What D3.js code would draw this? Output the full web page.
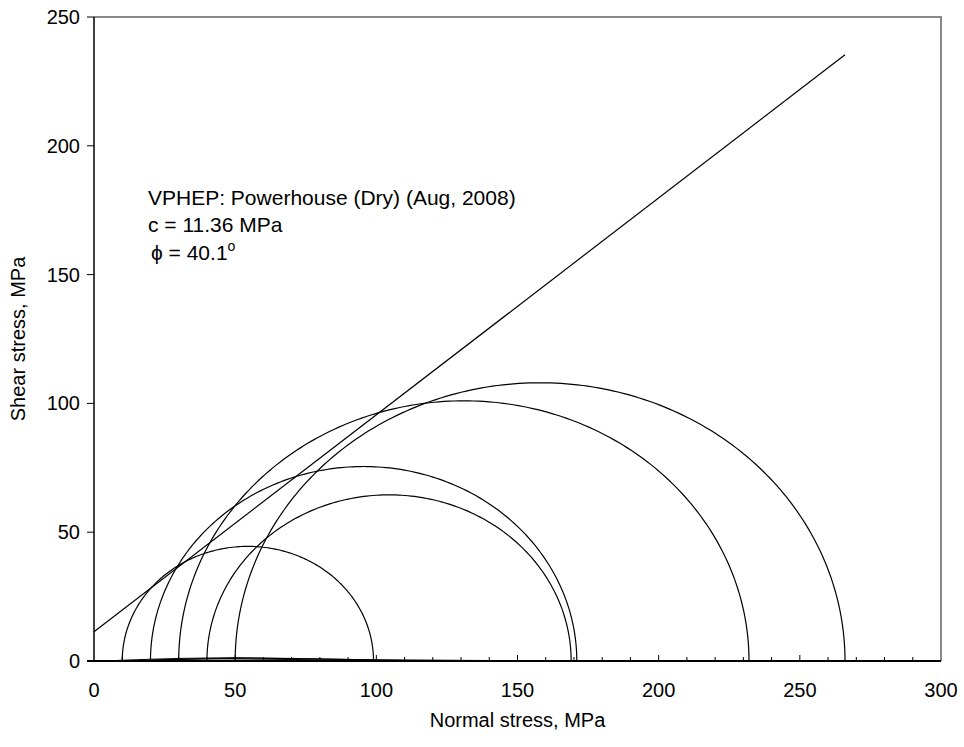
<!DOCTYPE html>
<html>
<head>
<meta charset="UTF-8">
<title>Mohr circles</title>
<style>
    body { margin: 0; background: #fff; }
    svg { display: block; }
    text { font-family: "Liberation Sans", Arial, sans-serif; fill: #000; }
</style>
</head>
<body>
<svg width="964" height="747"></svg>
<script src="https://cdn.jsdelivr.net/npm/d3@7"></script>
<script>
    // confining stress (sigma3) and peak stress (sigma1), MPa
    const sigma3 = [10, 20, 30, 40, 50];
    const sigma1 = [99, 171, 232, 169, 266];

    // failure envelope
    const cohesion = 11.36;
    const phiDeg = 40.1;
    const envelopeEnd = 266;

    // faint flat traces lying along the axis
    const traces = [
        [[3, 0], [15, 0.5], [30, 1.0], [50, 1.3], [70, 1.0], [100, 0.4], [140, 0.2]],
        [[10, 0], [30, 0.6], [55, 1.1], [80, 0.8], [110, 0.3], [170, 0]],
        [[20, 0.4], [40, 0.9], [60, 0.7], [100, 0.2], [130, 0]]
    ];

    const xTicks = [0, 50, 100, 150, 200, 250, 300];
    const yTicks = [0, 50, 100, 150, 200, 250];
    const labels = ["VPHEP: Powerhouse (Dry) (Aug, 2008)", "c = 11.36 MPa"];

    const svg = d3.select("svg");
    const mLeft = 94, mRight = 941, mTop = 17, mBottom = 661;
    const fs = 20;

    const x = d3.scaleLinear().domain([0, 300]).range([mLeft, mRight]);
    const y = d3.scaleLinear().domain([0, 250]).range([mBottom, mTop]);

    // plot frame (top and right grey)
    svg.append("path")
        .attr("d", `M${mLeft},${mTop}H${mRight}V${mBottom}`)
        .attr("fill", "none")
        .attr("stroke", "#888")
        .attr("stroke-width", 2);

    // circles
    const line = d3.line().x(d => x(d[0])).y(d => y(d[1]));
    const circles = sigma3.map((s3, i) => {
        const c = (s3 + sigma1[i]) / 2, r = (sigma1[i] - s3) / 2;
        return d3.range(0, 181).map(k => {
            const a = Math.PI - k * Math.PI / 180;
            return [c + r * Math.cos(a), r * Math.sin(a)];
        });
    });

    svg.append("g").selectAll("path")
        .data(circles)
        .join("path")
        .attr("d", line)
        .attr("fill", "none")
        .attr("stroke", "#000")
        .attr("stroke-width", 1.2);

    svg.append("g").selectAll("path")
        .data(traces)
        .join("path")
        .attr("d", line)
        .attr("fill", "none")
        .attr("stroke", "#000")
        .attr("stroke-width", 1);

    // envelope
    const tanPhi = Math.tan(phiDeg * Math.PI / 180);
    svg.append("path")
        .attr("d", line([[0, cohesion], [envelopeEnd, cohesion + envelopeEnd * tanPhi]]))
        .attr("stroke", "#000")
        .attr("stroke-width", 1.2);

    // x axis
    const xAxis = svg.append("g").attr("transform", `translate(0,${mBottom})`);
    xAxis.append("line")
        .attr("x1", mLeft - 7).attr("x2", mRight)
        .attr("stroke", "#000").attr("stroke-width", 2);
    xAxis.selectAll(".minor")
        .data(d3.range(10, 300, 10))
        .join("line")
        .attr("x1", d => x(d)).attr("x2", d => x(d))
        .attr("y1", 0).attr("y2", d => d % 50 === 0 ? -6 : -4)
        .attr("stroke", "#000").attr("stroke-width", 1);
    xAxis.selectAll("text")
        .data(xTicks)
        .join("text")
        .attr("x", d => x(d))
        .attr("y", 36)
        .attr("text-anchor", "middle")
        .attr("font-size", fs)
        .text(d => d);

    // y axis
    const yAxis = svg.append("g");
    yAxis.append("line")
        .attr("x1", mLeft).attr("x2", mLeft)
        .attr("y1", mTop).attr("y2", mBottom)
        .attr("stroke", "#000").attr("stroke-width", 1.5);
    yAxis.selectAll(".tick")
        .data(yTicks)
        .join("line")
        .attr("x1", mLeft - 7).attr("x2", mLeft)
        .attr("y1", d => y(d)).attr("y2", d => y(d))
        .attr("stroke", "#000").attr("stroke-width", 1);
    yAxis.selectAll("text")
        .data(yTicks)
        .join("text")
        .attr("x", mLeft - 14)
        .attr("y", d => y(d) + 7)
        .attr("text-anchor", "end")
        .attr("font-size", fs)
        .text(d => d);

    // axis titles
    svg.append("text")
        .attr("x", (mLeft + mRight) / 2)
        .attr("y", 727)
        .attr("text-anchor", "middle")
        .attr("font-size", fs)
        .text("Normal stress, MPa");
    svg.append("text")
        .attr("transform", `translate(25,${(mTop + mBottom) / 2}) rotate(-90)`)
        .attr("text-anchor", "middle")
        .attr("font-size", fs)
        .text("Shear stress, MPa");

    // annotation
    svg.selectAll(".lab")
        .data(labels)
        .join("text")
        .attr("x", 148)
        .attr("y", (d, i) => 205 + i * 27)
        .attr("font-size", 21)
        .text(d => d);
    const phiText = svg.append("text")
        .attr("x", 151)
        .attr("y", 260)
        .attr("font-size", 21);
    phiText.append("tspan").text("\u03d5 = " + phiDeg);
    phiText.append("tspan").attr("dy", -9).attr("font-size", 14).text("o");
</script>
</body>
</html>
